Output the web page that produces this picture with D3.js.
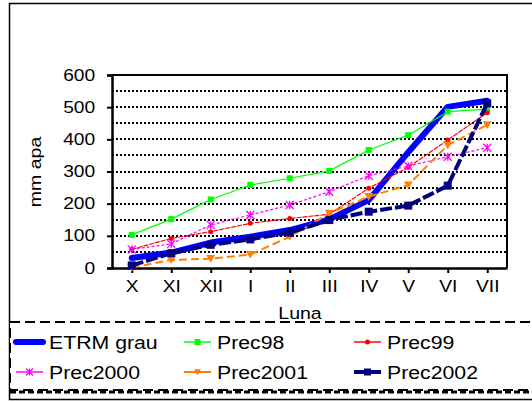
<!DOCTYPE html>
<html>
<head>
<meta charset="utf-8">
<script src="https://cdn.jsdelivr.net/npm/d3@7"></script>
<style>
  body { margin: 0; background: #fff; }
  svg { display: block; }
  text { font-family: "Liberation Sans", Arial, sans-serif; fill: #000; }
</style>
</head>
<body>
<svg width="532" height="402"></svg>
<script>
// data
const months = ["X", "XI", "XII", "I", "II", "III", "IV", "V", "VI", "VII"];
const etrm     = [31, 48, 79, 97, 118, 151, 211, 360, 501, 520];
const prec98   = [103, 152, 213, 258, 279, 302, 367, 413, 486, 494];
const prec99   = [58, 92, 113, 139, 154, 167, 248, 313, 398, 483];
const prec2000 = [58, 75, 134, 165, 196, 237, 287, 317, 346, 374];
const prec2001 = [1, 25, 29, 42, 97, 170, 222, 258, 382, 445];
const prec2002 = [8, 46, 72, 89, 110, 149, 175, 194, 256, 512];
const yTicks = [0, 100, 200, 300, 400, 500, 600];
const gridValues = [50, 100, 150, 200, 250, 300, 350, 400, 450, 500, 550];

const seriesNames = ["ETRM grau", "Prec98", "Prec99", "Prec2000", "Prec2001", "Prec2002"];
const seriesValues = [etrm, prec98, prec99, prec2000, prec2001, prec2002];

const styles = {
  "ETRM grau": { color: "#0000ff", width: 6, dash: null, marker: null },
  "Prec98":    { color: "#00ff00", width: 1.2, dash: null, marker: "square", size: 6 },
  "Prec99":    { color: "#ff0000", width: 1.2, dash: "5,1", marker: "circle", size: 5 },
  "Prec2000":  { color: "#ff00ff", width: 1.2, dash: "3,2", marker: "cross", size: 8 },
  "Prec2001":  { color: "#ff8000", width: 2, dash: "8,4", marker: "tri", size: 9 },
  "Prec2002":  { color: "#000080", width: 4, dash: "12,3", marker: "square", size: 8 }
};

const svg = d3.select("svg");
const x0 = 112, x1 = 507, y0 = 268, y1 = 75;

// outer frame
svg.append("rect")
  .attr("x", 9.5).attr("y", 3.5)
  .attr("width", 600).attr("height", 396)
  .attr("fill", "none").attr("stroke", "#000").attr("stroke-width", 1.5);

const xScale = d3.scalePoint()
  .domain(months)
  .range([x0, x1])
  .padding(0.5);

const yScale = d3.scaleLinear()
  .domain([0, 600])
  .range([y0, y1]);

// grid lines (dotted, snapped to pixels so they stay black)
svg.append("g")
  .selectAll("line")
  .data(gridValues)
  .join("line")
  .attr("x1", x0).attr("x2", x1)
  .attr("y1", d => Math.round(yScale(d))).attr("y2", d => Math.round(yScale(d)))
  .attr("stroke", "#000")
  .attr("stroke-width", 2)
  .attr("stroke-dasharray", "2,2");

// plot border (top + right)
svg.append("path")
  .attr("d", `M${x0},${y1}H${x1}V${y0}`)
  .attr("fill", "none").attr("stroke", "#000").attr("stroke-width", 2);

const yAxis = svg.append("g")
  .attr("transform", `translate(${x0},0)`)
  .call(d3.axisLeft(yScale).tickValues(yTicks).tickSize(5).tickPadding(9));
yAxis.select(".domain").attr("stroke-width", 2.5);
yAxis.selectAll(".tick line").attr("stroke-width", 2);
yAxis.selectAll("text")
  .style("font-size", "16px")
  .style("font-family", "Liberation Sans, Arial, sans-serif")
  .attr("transform", "scale(1.2,1)");

const xAxis = svg.append("g")
  .attr("transform", `translate(0,${y0})`)
  .call(d3.axisBottom(xScale).tickSize(5).tickPadding(8).tickSizeOuter(0));
xAxis.select(".domain").attr("stroke-width", 2.5);
xAxis.selectAll(".tick line").attr("stroke-width", 2);
xAxis.selectAll("text")
  .style("font-size", "16px")
  .style("font-family", "Liberation Sans, Arial, sans-serif")
  .attr("transform", "scale(1.2,1)");

// axis titles
svg.append("text")
  .attr("transform", "translate(300,319) scale(1.15,1)")
  .attr("text-anchor", "middle")
  .style("font-size", "17px")
  .text("Luna");

svg.append("text")
  .attr("transform", "translate(41,172) rotate(-90) scale(1.15,1)")
  .attr("text-anchor", "middle")
  .style("font-size", "17px")
  .text("mm apa");

function drawMarker(g, type, cx, cy, size, color) {
  const h = size / 2;
  if (type === "square") {
    g.append("rect")
      .attr("x", cx - h).attr("y", cy - h)
      .attr("width", size).attr("height", size)
      .attr("fill", color);
  } else if (type === "circle") {
    g.append("circle")
      .attr("cx", cx).attr("cy", cy).attr("r", h)
      .attr("fill", color);
  } else if (type === "cross") {
    g.append("path")
      .attr("d", `M${cx - h},${cy - h}L${cx + h},${cy + h}M${cx - h},${cy + h}L${cx + h},${cy - h}M${cx},${cy - h}V${cy + h}`)
      .attr("stroke", color).attr("stroke-width", 1.3).attr("fill", "none");
  } else if (type === "tri") {
    g.append("path")
      .attr("d", `M${cx - h},${cy - h * 0.8}L${cx + h},${cy - h * 0.8}L${cx},${cy + h * 0.9}Z`)
      .attr("fill", color);
  }
}

const line = d3.line()
  .x((d, i) => xScale(months[i]))
  .y(d => yScale(d));

seriesNames.forEach((name, k) => {
  const st = styles[name];
  const vals = seriesValues[k];
  const g = svg.append("g");
  g.append("path")
    .datum(vals)
    .attr("d", line)
    .attr("fill", "none")
    .attr("stroke", st.color)
    .attr("stroke-width", st.width)
    .attr("stroke-dasharray", st.dash)
    .attr("stroke-linejoin", "round")
    .attr("stroke-linecap", name === "ETRM grau" ? "round" : "butt");
  if (st.marker) {
    vals.forEach((v, i) => drawMarker(g, st.marker, xScale(months[i]), yScale(v), st.size, st.color));
  }
});

// legend
const legend = svg.append("g");
legend.append("rect")
  .attr("x", 10).attr("y", 322)
  .attr("width", 600).attr("height", 68)
  .attr("fill", "#fff")
  .attr("stroke", "#000").attr("stroke-width", 2)
  .attr("stroke-dasharray", "10,5");
legend.append("line")
  .attr("x1", 10).attr("x2", 532)
  .attr("y1", 392).attr("y2", 392)
  .attr("stroke", "#000").attr("stroke-width", 3)
  .attr("stroke-dasharray", "6,3");

const legendX = [49, 217, 387];
const legendY = [349, 379];

seriesNames.forEach((name, k) => {
  const st = styles[name];
  const tx = legendX[k % 3];
  const ty = legendY[Math.floor(k / 3)];
  const ly = ty - 7;
  const g = legend.append("g");
  g.append("line")
    .attr("x1", tx - 33).attr("x2", tx - 6)
    .attr("y1", ly).attr("y2", ly)
    .attr("stroke", st.color)
    .attr("stroke-width", Math.max(st.width, 1.5))
    .attr("stroke-linecap", name === "ETRM grau" ? "round" : "butt");
  if (st.marker) drawMarker(g, st.marker, tx - 19.5, ly, Math.min(st.size, 7), st.color);
  g.append("text")
    .attr("transform", `translate(${tx},${ty}) scale(1.15,1)`)
    .style("font-size", "18.5px")
    .text(name);
});
</script>
</body>
</html>
